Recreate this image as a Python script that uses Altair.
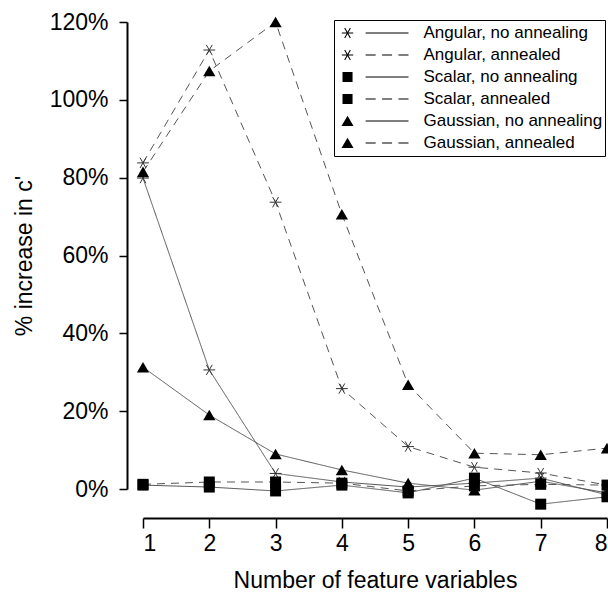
import math
import altair as alt
import pandas as pd

features = [1, 2, 3, 4, 5, 6, 7, 8]
series_names = [
    "Angular, no annealing",
    "Angular, annealed",
    "Scalar, no annealing",
    "Scalar, annealed",
    "Gaussian, no annealing",
    "Gaussian, annealed",
]
angular_no = [79.9, 30.6, 4.0, 1.8, 0.5, 1.5, 2.8, -1.5]
angular_ann = [83.8, 112.8, 73.7, 25.8, 10.9, 5.6, 4.1, 1.0]
scalar_no = [1.0, 0.5, -0.5, 1.0, -1.0, 2.8, -3.9, -2.0]
scalar_ann = [1.2, 1.8, 1.8, 1.5, -0.5, 0.8, 1.2, 1.0]
gauss_no = [31.3, 19.0, 9.0, 4.9, 1.5, -0.3, 2.0, -1.0]
gauss_ann = [81.5, 107.4, 120.0, 70.6, 26.8, 9.2, 8.8, 10.5]
y_ticks = [0, 20, 40, 60, 80, 100, 120]

specs = [
    (series_names[0], "Angular", "no", angular_no),
    (series_names[1], "Angular", "yes", angular_ann),
    (series_names[2], "Scalar", "no", scalar_no),
    (series_names[3], "Scalar", "yes", scalar_ann),
    (series_names[4], "Gaussian", "no", gauss_no),
    (series_names[5], "Gaussian", "yes", gauss_ann),
]
rows = []
for name, method, ann, vals in specs:
    for xv, v in zip(features, vals):
        rows.append({"x": xv, "v": v, "series": name, "method": method, "annealed": ann})
df = pd.DataFrame(rows)

ASTER = "M-1,0L1,0M-0.5,-0.87L0.5,0.87M-0.5,0.87L0.5,-0.87"


# legend symbol paths (unit space, filled only): marker left, line sample right
def seg(x1, y1, x2, y2, w=0.016):
    dx, dy = x2 - x1, y2 - y1
    L = math.hypot(dx, dy)
    px, py = -dy / L * w, dx / L * w
    pts = [(x1 + px, y1 + py), (x2 + px, y2 + py), (x2 - px, y2 - py), (x1 - px, y1 - py)]
    return "M" + "L".join(f"{a:.4f},{b:.4f}" for a, b in pts) + "Z"


cx, r = -0.82, 0.17
m_aster = (seg(cx - r, 0, cx + r, 0)
           + seg(cx - 0.5 * r, -0.87 * r, cx + 0.5 * r, 0.87 * r)
           + seg(cx - 0.5 * r, 0.87 * r, cx + 0.5 * r, -0.87 * r))
m_square = "M-0.97,-0.15L-0.67,-0.15L-0.67,0.15L-0.97,0.15Z"
m_tri = "M-0.82,-0.16L-0.64,0.15L-1.0,0.15Z"
solid = seg(-0.28, 0, 1.0, 0)
dashed = seg(-0.28, 0, 0.02, 0) + seg(0.21, 0, 0.51, 0) + seg(0.70, 0, 1.0, 0)
legend_paths = [
    m_aster + solid, m_aster + dashed,
    m_square + solid, m_square + dashed,
    m_tri + solid, m_tri + dashed,
]

x_enc = alt.X(
    "x:Q",
    scale=alt.Scale(domain=[1, 8], nice=False, zero=False),
    axis=alt.Axis(values=features, title="Number of feature variables", offset=29,
                  tickSize=10, labelPadding=4, titlePadding=14, format="d"),
)
y_enc = alt.Y(
    "v:Q",
    scale=alt.Scale(domain=[0, 120], nice=False, zero=False),
    axis=alt.Axis(values=y_ticks, labelExpr="datum.value + '%'", title="% increase in c'",
                  offset=16, tickSize=8, labelPadding=11, titlePadding=13),
)

base = alt.Chart(df)

lines = base.mark_line(strokeWidth=1, color="#555555").encode(
    x=x_enc, y=y_enc, detail="series:N",
    strokeDash=alt.StrokeDash("annealed:N",
                              scale=alt.Scale(domain=["no", "yes"], range=[[1, 0], [8, 6]]),
                              legend=None),
)

aster = base.transform_filter("datum.method == 'Angular'").mark_point(
    shape=ASTER, filled=False, stroke="#333333", strokeWidth=1, size=140, opacity=1
).encode(x=x_enc, y=y_enc)

squares = base.transform_filter("datum.method == 'Scalar'").mark_point(
    shape="square", filled=True, color="black", size=121, opacity=1
).encode(x=x_enc, y=y_enc)

tris = base.transform_filter("datum.method == 'Gaussian'").mark_point(
    shape="triangle-up", filled=True, color="black", size=150, opacity=1
).encode(x=x_enc, y=y_enc)

legend_layer = base.transform_filter("false").mark_point(
    filled=True, color="black", size=4489, opacity=1
).encode(
    x=x_enc, y=y_enc,
    shape=alt.Shape("series:N",
                    scale=alt.Scale(domain=series_names, range=legend_paths),
                    legend=alt.Legend(title=None, orient="none", legendX=191, legendY=-2,
                                      strokeColor="black", padding=2, fillColor="white",
                                      labelFontSize=17, labelColor="black",
                                      symbolOffset=4.5, labelOffset=14, clipHeight=22,
                                      rowPadding=0, symbolFillColor="black",
                                      symbolSize=4489, labelLimit=400, cornerRadius=0)),
)

chart = alt.layer(lines, aster, squares, tris, legend_layer).resolve_scale(
    shape="independent", strokeDash="independent"
).properties(
    width=464, height=467,
    autosize=alt.AutoSizeParams(type="none"),
    padding={"left": 143, "top": 22, "right": 1, "bottom": 106},
).configure(
    font="Liberation Sans"
).configure_view(
    strokeWidth=0
).configure_axis(
    grid=False, domainColor="black", domainWidth=2, tickColor="black", tickWidth=1.5,
    labelColor="black", titleColor="black", labelFontSize=23, titleFontSize=23,
    titleFontWeight="normal", labelFont="Liberation Sans", titleFont="Liberation Sans",
)

chart.save("out.html", embed_options={"renderer": "svg", "actions": False})
